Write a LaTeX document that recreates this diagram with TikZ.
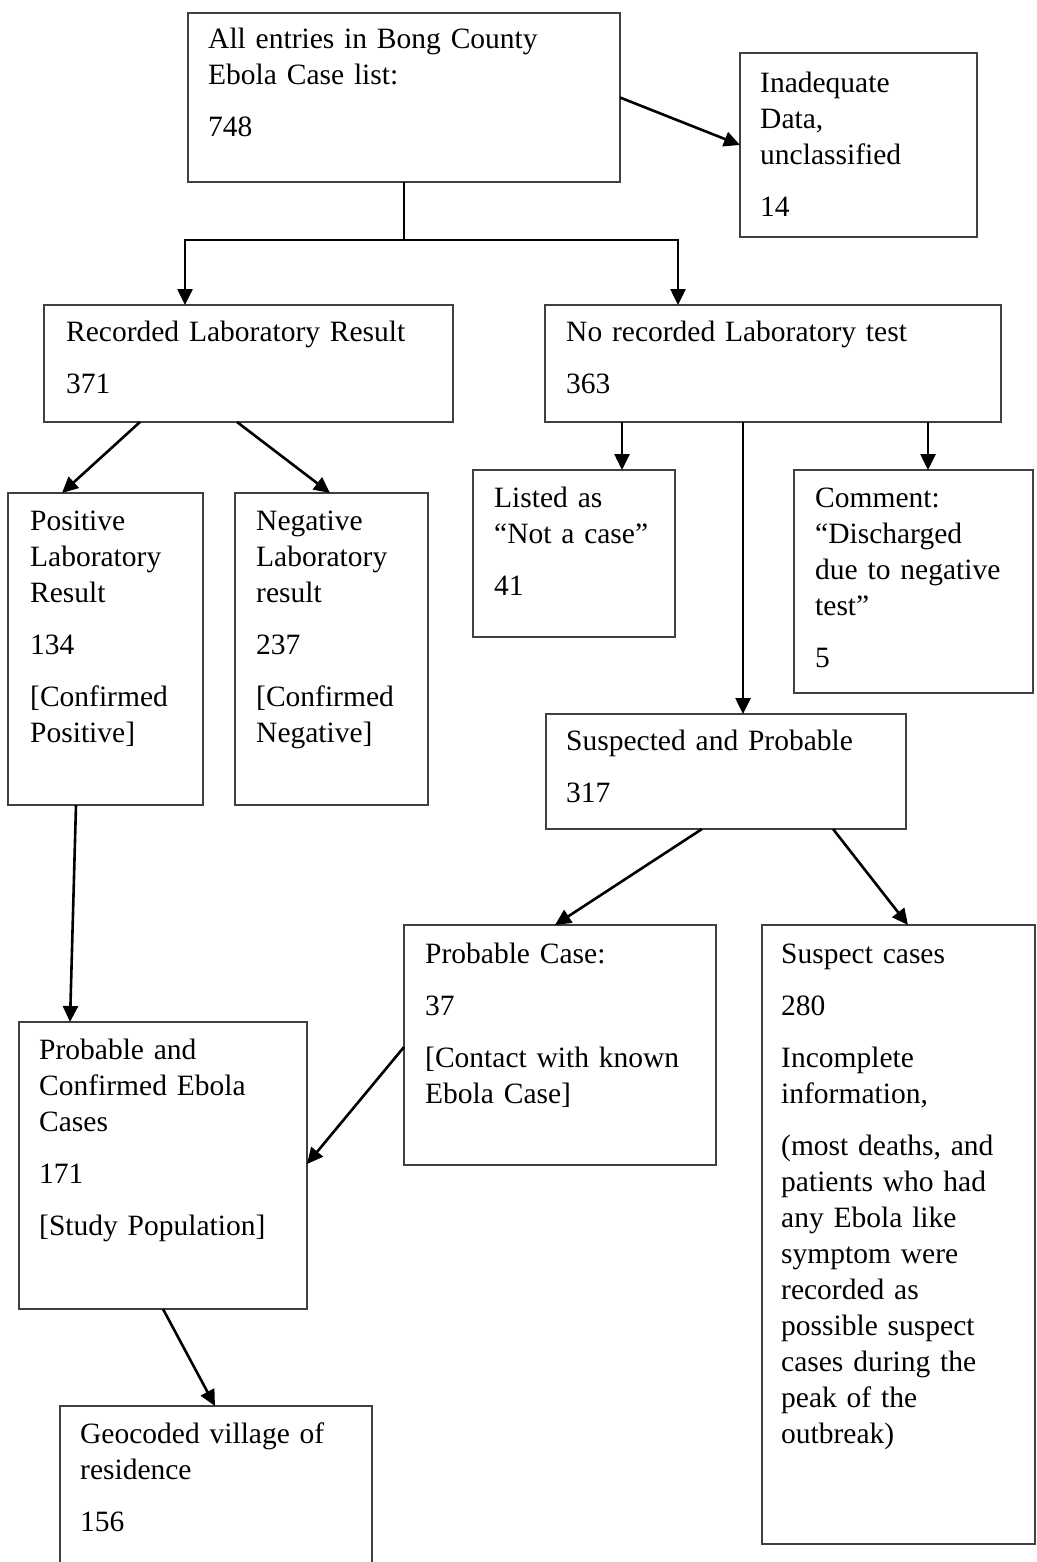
\documentclass[tikz,border=0pt]{standalone}
\usepackage{fontspec}
\setmainfont{Liberation Serif}
\usetikzlibrary{arrows.meta,calc}
\tikzset{
  box/.style n args={2}{draw=black!75, line width=1.6pt, anchor=north west,
    inner sep=0pt, outer sep=0pt, minimum width=#1, minimum height=#2},
  txt/.style={anchor=base west, inner sep=0pt, align=left, text width=#1,
    font=\fontsize{29.5}{36}\selectfont},
  arr/.style={draw=black, line width=2.6pt, -{Triangle[length=16pt,width=15pt]}},
  ln/.style={draw=black, line width=2.2pt},
}
\begin{document}
\begin{tikzpicture}[x=1pt,y=-1pt]
\useasboundingbox (0,0) rectangle (1036,1562);
\clip (0,0) rectangle (1036,1562);
% boxes
\node[box={432pt}{169pt}] (all) at (188,13) {};
\node[box={237pt}{184pt}] (inad) at (740,53) {};
\node[box={409pt}{117pt}] (rec) at (44,305) {};
\node[box={456pt}{117pt}] (norec) at (545,305) {};
\node[box={195pt}{312pt}] (pos) at (8,493) {};
\node[box={193pt}{312pt}] (neg) at (235,493) {};
\node[box={202pt}{167pt}] (listed) at (473,470) {};
\node[box={239pt}{223pt}] (comm) at (794,470) {};
\node[box={360pt}{115pt}] (susp) at (546,714) {};
\node[box={312pt}{240pt}] (probc) at (404,925) {};
\node[box={273pt}{619pt}] (suspc) at (762,925) {};
\node[box={288pt}{287pt}] (pc) at (19,1022) {};
\node[box={312pt}{200pt}] (geo) at (60,1406) {};
% texts
\node[txt=420pt] (allT) at ($(all.north west)+(20,36)$) {All entries in Bong County\\Ebola Case list:\\[16pt]748};
\node[txt=220pt] (inadT) at ($(inad.north west)+(20,40)$) {Inadequate\\Data,\\unclassified\\[16pt]14};
\node[txt=400pt] (recT) at ($(rec.north west)+(22,36)$) {Recorded Laboratory Result\\[16pt]371};
\node[txt=440pt] (norecT) at ($(norec.north west)+(21,36)$) {No recorded Laboratory test\\[16pt]363};
\node[txt=190pt] (posT) at ($(pos.north west)+(22,37)$) {Positive\\Laboratory\\Result\\[16pt]134\\[16pt][Confirmed\\Positive]};
\node[txt=190pt] (negT) at ($(neg.north west)+(21,37)$) {Negative\\Laboratory\\result\\[16pt]237\\[16pt][Confirmed\\Negative]};
\node[txt=200pt] (listedT) at ($(listed.north west)+(21,37)$) {Listed as\\“Not a case”\\[16pt]41};
\node[txt=235pt] (commT) at ($(comm.north west)+(21,37)$) {Comment:\\“Discharged\\due to negative\\test”\\[16pt]5};
\node[txt=350pt] (suspT) at ($(susp.north west)+(20,36)$) {Suspected and Probable\\[16pt]317};
\node[txt=310pt] (probcT) at ($(probc.north west)+(21,38)$) {Probable Case:\\[16pt]37\\[16pt][Contact with known\\Ebola Case]};
\node[txt=270pt] (suspcT) at ($(suspc.north west)+(19,38)$) {Suspect cases\\[16pt]280\\[16pt]Incomplete\\information,\\[16pt](most deaths, and\\patients who had\\any Ebola like\\symptom were\\recorded as\\possible suspect\\cases during the\\peak of the\\outbreak)};
\node[txt=285pt] (pcT) at ($(pc.north west)+(20,37)$) {Probable and\\Confirmed Ebola\\Cases\\[16pt]171\\[16pt][Study Population]};
\node[txt=310pt] (geoT) at ($(geo.north west)+(20,37)$) {Geocoded village of\\residence\\[16pt]156};
% connectors
\draw[arr] (all.east) -- (inad.west);
\draw[ln] (all.south) -- ++(0,58) coordinate (j);
\draw[arr] (j) -| ($(rec.north west)+(141,0)$);
\draw[arr] (j) -| ($(norec.north west)+(133,0)$);
\draw[arr] ($(rec.south west)+(96,0)$) -- ($(pos.north west)+(54,0)$);
\draw[arr] ($(rec.south west)+(193,0)$) -- ($(neg.north west)+(95,0)$);
\draw[arr] ($(norec.south west)+(77,0)$) -- ($(listed.north west)+(149,0)$);
\draw[arr] ($(norec.south west)+(198,0)$) -- ($(susp.north west)+(197,0)$);
\draw[arr] ($(norec.south west)+(383,0)$) -- ($(comm.north west)+(134,0)$);
\draw[arr] ($(pos.south west)+(68,0)$) -- ($(pc.north west)+(51,0)$);
\draw[arr] ($(susp.south west)+(156,0)$) -- ($(probc.north west)+(151,0)$);
\draw[arr] ($(susp.south west)+(287,0)$) -- ($(suspc.north west)+(146,0)$);
\draw[arr] ($(probc.north west)+(0,122)$) -- ($(pc.north east)+(0,142)$);
\draw[arr] ($(pc.south west)+(144,0)$) -- ($(geo.north west)+(155,0)$);
\end{tikzpicture}
\end{document}
